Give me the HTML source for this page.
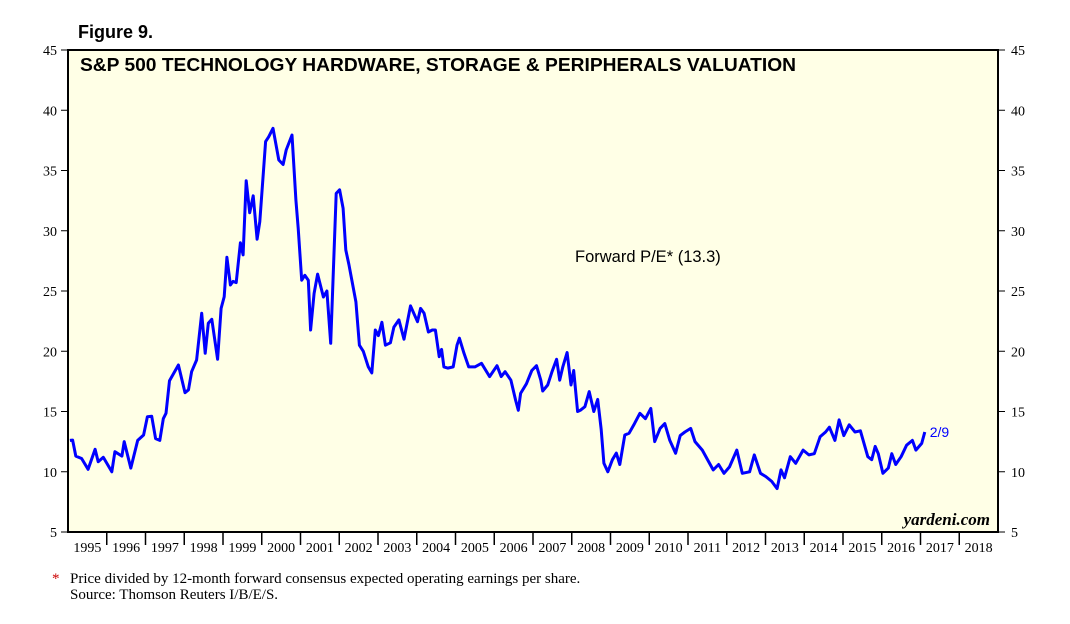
<!DOCTYPE html>
<html><head><meta charset="utf-8"><style>
body{margin:0;background:#fff;width:1070px;height:619px;overflow:hidden}
text{font-family:"Liberation Serif",serif}
</style></head><body>
<svg id="chart" width="1070" height="619" xmlns="http://www.w3.org/2000/svg">
<text x="78" y="38" style="font-family:'Liberation Sans',sans-serif;font-weight:bold;font-size:18px">Figure 9.</text>
<rect x="68" y="50" width="930" height="482" fill="#FFFFE6" stroke="#000" stroke-width="2"/>
<text x="80" y="71" textLength="716" lengthAdjust="spacingAndGlyphs" style="font-family:'Liberation Sans',sans-serif;font-weight:bold;font-size:18.5px">S&amp;P 500 TECHNOLOGY HARDWARE, STORAGE &amp; PERIPHERALS VALUATION</text>
<text x="575" y="262" style="font-family:'Liberation Sans',sans-serif;font-size:16.5px">Forward P/E* (13.3)</text>
<text x="990" y="525" text-anchor="end" style="font-style:italic;font-weight:bold;font-size:17px">yardeni.com</text>
<g id="axes"></g>
<path id="line" fill="none" stroke="#0000FF" stroke-width="3" stroke-linejoin="round"/>
<text id="endlabel" fill="#0000FF" style="font-family:'Liberation Sans',sans-serif;font-size:14px">2/9</text>
<text x="52" y="583" style="font-size:15px"><tspan fill="#c00">*</tspan><tspan x="70">Price divided by 12-month forward consensus expected operating earnings per share.</tspan></text>
<text x="70" y="599" style="font-size:15px">Source: Thomson Reuters I/B/E/S.</text>
</svg>
<script>
const dates=[1995.05,1995.12,1995.2,1995.35,1995.52,1995.7,1995.78,1995.91,1996.13,1996.21,1996.39,1996.45,1996.62,1996.8,1996.95,1997.05,1997.16,1997.26,1997.37,1997.46,1997.53,1997.62,1997.85,1998.02,1998.11,1998.19,1998.32,1998.45,1998.54,1998.62,1998.71,1998.86,1998.95,1999.03,1999.1,1999.19,1999.26,1999.34,1999.45,1999.52,1999.6,1999.69,1999.78,1999.88,1999.95,2000.1,2000.18,2000.29,2000.44,2000.55,2000.63,2000.78,2000.88,2000.94,2001.03,2001.11,2001.2,2001.26,2001.35,2001.44,2001.59,2001.68,2001.78,2001.92,2002.01,2002.1,2002.17,2002.25,2002.43,2002.52,2002.62,2002.75,2002.84,2002.93,2003.01,2003.1,2003.19,2003.32,2003.41,2003.54,2003.67,2003.84,2004.02,2004.1,2004.19,2004.3,2004.4,2004.48,2004.58,2004.64,2004.7,2004.8,2004.94,2005.04,2005.1,2005.22,2005.34,2005.5,2005.67,2005.88,2006.07,2006.18,2006.28,2006.43,2006.55,2006.62,2006.68,2006.83,2006.97,2007.09,2007.2,2007.25,2007.38,2007.49,2007.61,2007.69,2007.77,2007.88,2007.98,2008.05,2008.15,2008.22,2008.34,2008.45,2008.57,2008.67,2008.76,2008.83,2008.93,2009.05,2009.15,2009.24,2009.37,2009.48,2009.62,2009.76,2009.9,2010.04,2010.14,2010.28,2010.4,2010.53,2010.68,2010.8,2010.92,2011.07,2011.18,2011.37,2011.54,2011.65,2011.79,2011.93,2012.07,2012.26,2012.4,2012.59,2012.71,2012.87,2013.01,2013.16,2013.3,2013.4,2013.49,2013.64,2013.78,2013.97,2014.12,2014.26,2014.41,2014.55,2014.65,2014.79,2014.9,2015.02,2015.16,2015.31,2015.45,2015.64,2015.74,2015.83,2015.91,2016.03,2016.17,2016.26,2016.36,2016.5,2016.64,2016.79,2016.88,2017.03,2017.11];
const values=[12.6,12.63,11.3,11.1,10.2,11.86,10.83,11.2,10.0,11.66,11.3,12.5,10.3,12.6,13.05,14.57,14.6,12.75,12.6,14.4,14.85,17.56,18.86,16.56,16.8,18.3,19.27,23.15,19.83,22.32,22.65,19.33,23.56,24.53,27.8,25.5,25.8,25.7,29.0,28.0,34.15,31.5,32.9,29.3,30.76,37.4,37.8,38.5,35.87,35.5,36.7,37.95,32.55,30.2,25.9,26.3,25.9,21.76,24.8,26.4,24.5,25.0,20.66,33.1,33.4,31.86,28.4,27.2,24.1,20.5,20.0,18.7,18.2,21.76,21.3,22.4,20.5,20.7,22.0,22.6,21.0,23.76,22.45,23.56,23.15,21.6,21.76,21.76,19.55,20.15,18.7,18.6,18.7,20.5,21.08,19.83,18.7,18.7,19.0,17.9,18.8,17.9,18.3,17.6,15.95,15.1,16.5,17.3,18.4,18.8,17.6,16.7,17.2,18.3,19.33,17.6,18.7,19.9,17.2,18.4,15.0,15.1,15.4,16.65,15.0,16.0,13.5,10.7,10.0,11.0,11.55,10.6,13.05,13.2,14.0,14.85,14.4,15.26,12.5,13.6,14.0,12.6,11.53,13.0,13.3,13.6,12.5,11.8,10.8,10.15,10.6,9.87,10.4,11.8,9.87,10.0,11.4,9.87,9.6,9.2,8.6,10.15,9.5,11.25,10.7,11.8,11.4,11.5,12.9,13.3,13.7,12.6,14.3,13.0,13.9,13.3,13.4,11.25,11.0,12.1,11.5,9.87,10.3,11.5,10.6,11.25,12.2,12.6,11.8,12.35,13.3];
const yTicks=[5,10,15,20,25,30,35,40,45];
const years=[1995,1996,1997,1998,1999,2000,2001,2002,2003,2004,2005,2006,2007,2008,2009,2010,2011,2012,2013,2014,2015,2016,2017,2018];
const X0=68,X1=998,Y0=532,Y1=50,ymin=5,ymax=45,tmin=1995,tmax=2019;
function xs(t){return X0+(t-tmin)/(tmax-tmin)*(X1-X0);}
function ys(v){return Y0-(v-ymin)/(ymax-ymin)*(Y0-Y1);}
const NS="http://www.w3.org/2000/svg";
const g=document.getElementById('axes');
function mk(tag,attrs,txt){const e=document.createElementNS(NS,tag);for(const k in attrs)e.setAttribute(k,attrs[k]);if(txt!==undefined)e.textContent=txt;g.appendChild(e);return e;}
yTicks.forEach(v=>{const y=ys(v);
 let t=mk('line',{x1:61,x2:68,y1:y,y2:y,stroke:'#000','stroke-width':1});
 
 
 t=mk('line',{x1:998,x2:1005,y1:y,y2:y,stroke:'#000','stroke-width':1});
 
 
 let l=mk('text',{x:57,y:y+5,'text-anchor':'end','font-size':'14px'},String(v));
 
 
 l=mk('text',{x:1011,y:y+5,'font-size':'14px'},String(v));
 
 
});
years.forEach((yr,i)=>{
 const x=xs(yr);
 if(i>0){let t=mk('line',{x1:x,x2:x,y1:532,y2:545,stroke:'#000','stroke-width':1.5});
 
 }
 let l=mk('text',{x:xs(yr+0.5),y:552,'text-anchor':'middle','font-size':'14px'},String(yr));
 
 
});
let d='';
dates.forEach((t,i)=>{d+=(i?'L':'M')+xs(t).toFixed(1)+','+ys(values[i]).toFixed(1);});
document.getElementById('line').setAttribute('d',d);
const el=document.getElementById('endlabel');
el.setAttribute('x',xs(dates[dates.length-1])+5);
el.setAttribute('y',ys(values[values.length-1])+5);
</script>
</body></html>
